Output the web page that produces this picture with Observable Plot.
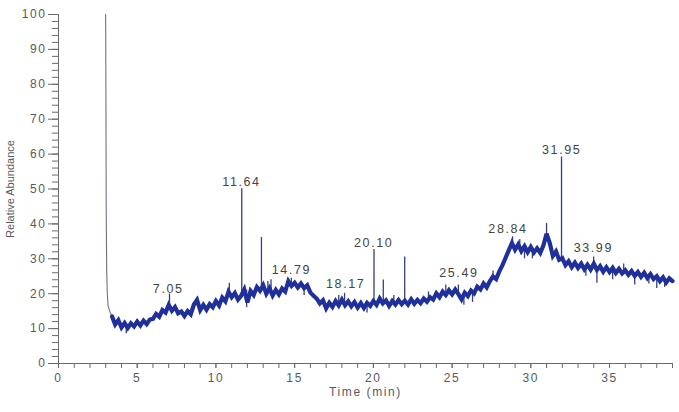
<!DOCTYPE html>
<html><head><meta charset="utf-8">
<script src="https://cdn.jsdelivr.net/npm/d3@7"></script>
<script src="https://cdn.jsdelivr.net/npm/@observablehq/plot@0.6"></script>
<style>
body{margin:0;background:#fff}
svg{font-family:"Liberation Sans",Arial,sans-serif}
svg text{letter-spacing:1.6px}
</style>
</head><body><div id="chart"></div>
<script>
// baseline trace, one sample every 0.2 min from 3.4 min
const traceStart = 3.4;
const traceStep = 0.2;
const traceValues = [
  13.5, 11.2, 12.4,
  10.3, 11.6, 10.2, 11.5, 10.6,
  12.0, 10.9, 12.3, 11.3, 12.6,
  12.8, 14.2, 13.4, 15.3, 14.6,
  16.8, 15.1, 16.2, 14.4, 14.9,
  13.6, 15.0, 14.1, 16.9, 18.2,
  15.3, 16.8, 15.4, 17.0, 16.1,
  17.9, 16.6, 18.9, 17.8, 20.6,
  19.0, 20.2, 18.3, 19.4, 21.2,
  17.5, 20.8, 19.6, 21.9, 20.8,
  22.4, 20.0, 21.6, 19.5, 21.1,
  19.8, 21.5, 20.6, 23.6, 22.2,
  23.1, 21.8, 22.9, 21.6, 22.4,
  20.3, 19.4, 18.6, 17.2, 18.1,
  15.8, 17.4, 16.2, 17.9, 16.6,
  18.3, 16.7, 17.8, 16.4, 17.6,
  16.0, 17.3, 15.9, 17.4, 16.5,
  17.9, 16.8, 18.6, 17.2, 18.1,
  16.5, 17.9, 16.9, 18.2, 17.0,
  18.0, 16.9, 18.4, 17.1, 18.2,
  17.3, 18.6, 17.7, 19.0, 18.3,
  20.1, 19.0, 20.6, 19.6, 21.0,
  19.8, 21.2, 19.9, 18.4, 20.3,
  19.3, 20.9, 20.1, 22.0, 21.2,
  22.9, 21.8, 23.6, 24.9, 24.2,
  26.4, 28.2, 30.3, 32.4, 34.5,
  32.6, 34.1, 32.2, 33.6, 31.9,
  33.4, 31.8, 33.0, 31.7, 33.8,
  37.2, 34.6, 30.8, 32.1, 29.7,
  30.2, 28.2, 29.3, 27.6, 28.9,
  27.4, 28.6, 27.0, 28.3, 26.9,
  28.6, 26.8, 27.9, 26.3, 27.6,
  26.2, 27.4, 25.9, 27.1, 25.8,
  26.7, 25.4, 26.5, 25.1, 26.2,
  24.8, 26.0, 24.5, 25.6, 24.2,
  25.0, 23.6, 24.7, 23.2, 24.4,
  23.6
];

// solvent front
const solventTime  = [2.99, 3.0, 3.01, 3.03, 3.06, 3.1, 3.15, 3.25, 3.4];
const solventValue = [100, 95, 80, 45, 27, 20, 16.5, 15, 13.5];

// narrow peaks / noise spikes (time, foot, tip)
const spikeTime = [4.3, 7.05, 8.8, 10.85, 11.64, 11.95, 12.89, 13.3, 13.5, 14.79, 15.6, 17.8, 18.17, 19.6, 20.04, 20.63, 21.3, 21.99, 23.5, 24.6, 25.4, 25.75, 26.3, 27.6, 28.84, 29.3, 29.6, 30.1, 31.0, 31.95, 33.5, 33.99, 34.2, 35.2, 35.9, 36.6, 37.5, 38.0, 38.5];
const spikeBase = [11.0, 16.0, 16.5, 20.5, 19.0, 21.0, 21.0, 21.0, 20.5, 22.0, 22.0, 17.0, 17.0, 16.8, 17.5, 17.5, 17.5, 17.5, 18.0, 20.0, 20.0, 19.5, 20.0, 24.0, 33.5, 33.0, 33.0, 32.5, 36.0, 29.5, 27.5, 27.5, 27.0, 26.5, 26.0, 25.5, 25.0, 24.0, 24.0];
const spikeTip  = [8.5, 19.9, 19.0, 23.0, 50.1, 16.0, 36.1, 23.5, 24.0, 24.4, 19.5, 19.5, 20.1, 14.5, 32.7, 23.9, 19.5, 30.5, 20.5, 22.5, 22.5, 16.7, 17.5, 26.5, 36.3, 35.5, 30.0, 30.0, 40.1, 59.2, 25.0, 30.5, 23.0, 24.0, 28.5, 22.5, 22.8, 21.5, 21.8];

// peak annotations
const peakLabels = ["7.05", "11.64", "14.79", "18.17", "20.10", "25.49", "28.84", "31.95", "33.99"];
const peakLabelX = [6.97, 11.62, 14.79, 18.24, 20.02, 25.43, 28.55, 31.96, 33.97];
const peakLabelY = [21.3, 52.0, 26.7, 22.7, 34.6, 25.8, 38.5, 61.1, 33.0];

const xTicks = [0, 5, 10, 15, 20, 25, 30, 35];
const yTicks = [0, 10, 20, 30, 40, 50, 60, 70, 80, 90, 100];
const xMinor = d3.range(0, 40, 1);
const yMinor = d3.range(0, 101, 2);

const trace = traceValues.map((v, i) => ({t: traceStart + i * traceStep, v}));
const solvent = solventTime.map((t, i) => ({t, v: solventValue[i]}));
const spikes = spikeTime.map((t, i) => ({t, y1: spikeBase[i], y2: spikeTip[i]}));
const labels = peakLabels.map((s, i) => ({s, t: peakLabelX[i], v: peakLabelY[i]}));

const axisColor = "#6a6a6a";
const textColor = "#5a5a5a";

const chart = Plot.plot({
  width: 679,
  height: 412,
  marginLeft: 58,
  marginRight: 7,
  marginTop: 14,
  marginBottom: 49,
  x: {domain: [0, 39], axis: null},
  y: {domain: [0, 100], axis: null},
  marks: [
    Plot.axisY(yMinor, {tickSize: 6, text: null, stroke: axisColor, label: null}),
    Plot.axisY(yTicks, {tickSize: 10, tickPadding: 2, stroke: axisColor, fill: textColor, fontSize: 12, label: null}),
    Plot.axisX(xMinor, {tickSize: 5, text: null, stroke: axisColor, label: null}),
    Plot.axisX(xTicks, {tickSize: 5, tickPadding: 5, stroke: axisColor, fill: textColor, fontSize: 12, label: null}),
    Plot.ruleX([0], {stroke: axisColor}),
    Plot.ruleY([0], {stroke: axisColor}),
    Plot.line(solvent, {x: "t", y: "v", stroke: "#6e7088", strokeWidth: 1.1}),
    Plot.ruleX(spikes, {x: "t", y1: "y1", y2: "y2", stroke: "#34407a", strokeWidth: 1.3}),
    Plot.line(trace, {x: "t", y: "v", stroke: "#20309a", strokeWidth: 4.2, strokeLinejoin: "miter", strokeMiterlimit: 3}),
    Plot.text(labels, {x: "t", y: "v", text: "s", fill: "#444", fontSize: 12.5}),
    Plot.text(["Time (min)"], {frameAnchor: "bottom", dy: 32, fill: textColor, fontSize: 12}),
    Plot.text(["Relative Abundance"], {frameAnchor: "left", textAnchor: "middle", dx: -48, rotate: -90, fill: textColor, fontSize: 11})
  ]
});
document.getElementById("chart").appendChild(chart);
chart.querySelectorAll("text").forEach(t => {
  if (t.textContent === "Relative Abundance") t.style.letterSpacing = "0";
});
</script>
</body></html>
